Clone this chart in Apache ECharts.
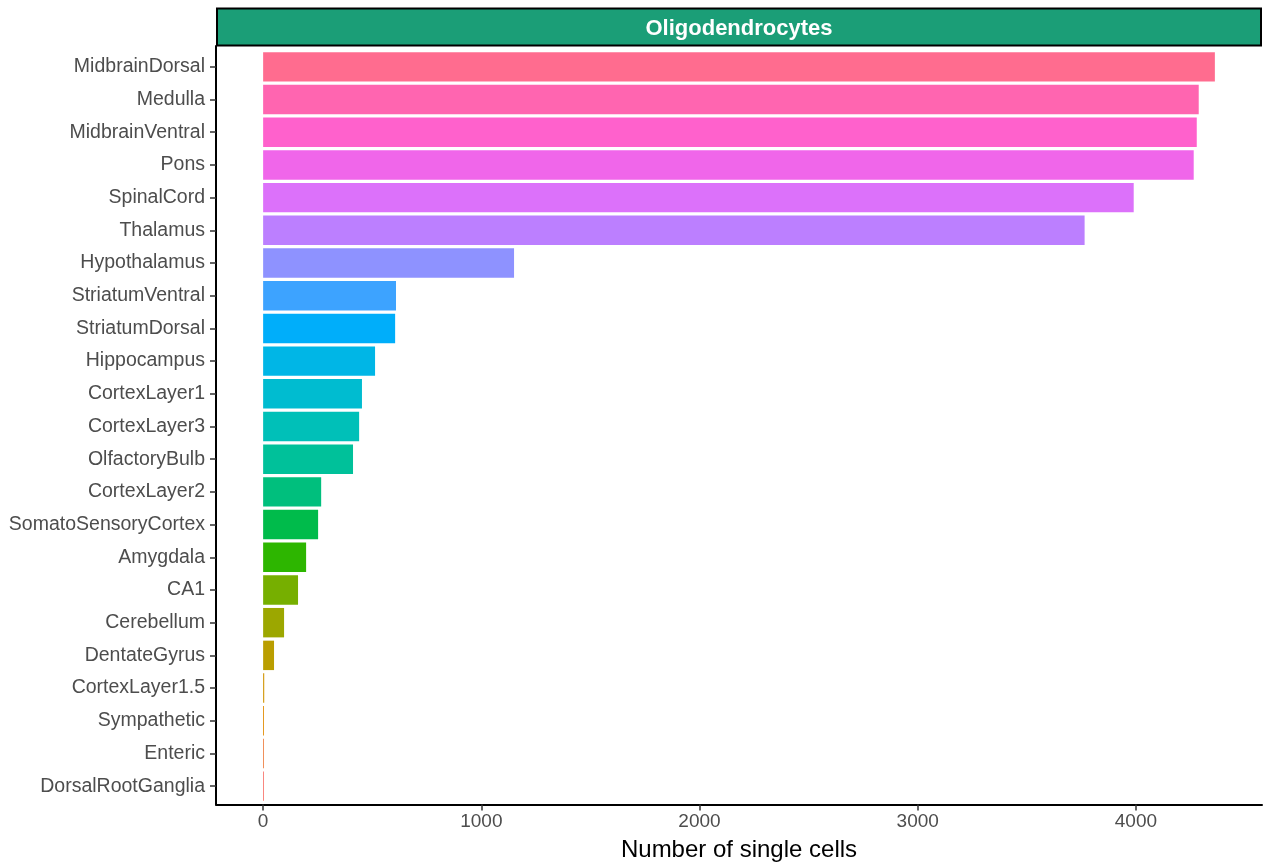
<!DOCTYPE html>
<html>
<head>
<meta charset="utf-8">
<script src="https://cdn.jsdelivr.net/npm/echarts@6/dist/echarts.min.js"></script>
<style>
  html, body { margin: 0; padding: 0; background: #fff; }
  #main { width: 1265px; height: 867px; }
</style>
</head>
<body>
<div id="main"></div>
<script>
// regions, top to bottom
var regions = ['MidbrainDorsal', 'Medulla', 'MidbrainVentral', 'Pons', 'SpinalCord', 'Thalamus',
  'Hypothalamus', 'StriatumVentral', 'StriatumDorsal', 'Hippocampus', 'CortexLayer1', 'CortexLayer3',
  'OlfactoryBulb', 'CortexLayer2', 'SomatoSensoryCortex', 'Amygdala', 'CA1', 'Cerebellum',
  'DentateGyrus', 'CortexLayer1.5', 'Sympathetic', 'Enteric', 'DorsalRootGanglia'];
var cellCounts = [4362, 4288, 4279, 4265, 3990, 3765, 1150, 609, 605, 513, 453, 440,
  412, 266, 252, 197, 160, 96, 50, 5, 4, 4, 4];
var barColors = ['#FF6C8F', '#FF65B0', '#FF61CC', '#F066EA', '#DC71FA', '#BC7FFF', '#8E92FF',
  '#3DA3FF', '#00AEFA', '#00B6E6', '#00BCD0', '#00C0B8', '#00C19A', '#00BF7D', '#00BB4B',
  '#2DB600', '#76AF00', '#9CA700', '#BA9E00', '#D09400', '#E28A00', '#EE8043', '#F8766D'];
var xTicks = [0, 1000, 2000, 3000, 4000];
var panelTitle = 'Oligodendrocytes';

var FONT = 'Liberation Sans, Arial, Helvetica, sans-serif';
var X_MIN = -216, X_MAX = 4578;

var myChart = echarts.init(document.getElementById('main'));

var option = {
  backgroundColor: '#fff',
  animation: false,
  textStyle: { fontFamily: FONT },
  grid: [
    // bars + category labels (ggplot-like 0.6 padding at the ends)
    { left: 216, right: 3, top: 50.5, bottom: 64.5, containLabel: false },
    // panel frame: axis lines, x ticks and title
    { left: 216, right: 3, top: 46, bottom: 62, containLabel: false }
  ],
  graphic: [
    {
      type: 'rect',
      shape: { x: 217, y: 8.5, width: 1044, height: 37 },
      style: { fill: '#1B9E77', stroke: '#000', lineWidth: 2 }
    },
    {
      type: 'text',
      x: 739, y: 28.5,
      style: {
        text: panelTitle, fill: '#fff', fontSize: 22, fontWeight: 'bold',
        fontFamily: FONT, align: 'center', verticalAlign: 'middle'
      }
    }
  ],
  xAxis: [
    {
      gridIndex: 0, type: 'value', min: X_MIN, max: X_MAX,
      axisLine: { show: false }, axisTick: { show: false },
      axisLabel: { show: false }, splitLine: { show: false }
    },
    {
      gridIndex: 1, type: 'value', min: X_MIN, max: X_MAX,
      name: 'Number of single cells',
      nameLocation: 'middle',
      nameGap: 33.5,
      nameTextStyle: { color: '#000', fontSize: 24 },
      axisLine: { show: true, onZero: false, lineStyle: { color: '#000', width: 2 } },
      axisTick: { show: true, length: 6, customValues: xTicks, lineStyle: { color: '#333', width: 1.5 } },
      axisLabel: {
        customValues: xTicks, color: '#4D4D4D', fontSize: 19, margin: 8,
        formatter: function (v) { return String(v); }
      },
      splitLine: { show: false }
    }
  ],
  yAxis: [
    {
      gridIndex: 0, type: 'category', data: regions, inverse: true,
      axisLine: { show: false, onZero: false },
      axisTick: { show: true, length: 6, alignWithLabel: true, lineStyle: { color: '#333', width: 1.5 } },
      axisLabel: { color: '#4D4D4D', fontSize: 19.5, margin: 11 },
      splitLine: { show: false }
    },
    {
      gridIndex: 1, type: 'value', min: 0, max: 1,
      axisLine: { show: true, onZero: false, lineStyle: { color: '#000', width: 2 } },
      axisTick: { show: false }, axisLabel: { show: false }, splitLine: { show: false }
    }
  ],
  series: [
    {
      type: 'bar',
      xAxisIndex: 0, yAxisIndex: 0,
      data: cellCounts.map(function (v, i) {
        return { value: v, itemStyle: { color: barColors[i] } };
      }),
      barCategoryGap: '10%'
    }
  ]
};

myChart.setOption(option);
</script>
</body>
</html>
